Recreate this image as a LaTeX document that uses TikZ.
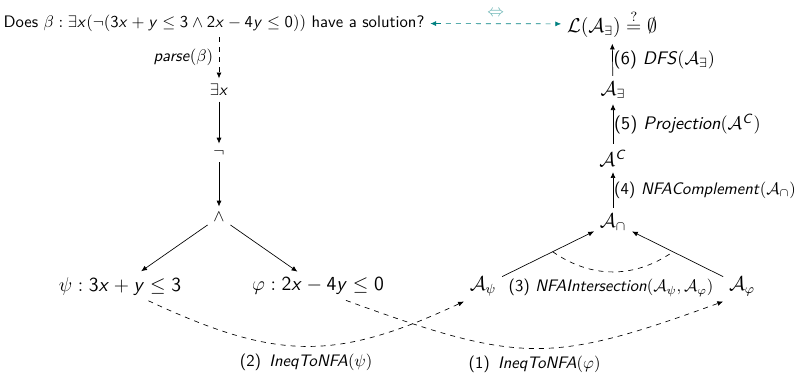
\documentclass[tikz,border=0pt]{standalone}
\usepackage{amsmath,amssymb}
\usetikzlibrary{arrows.meta}
\renewcommand{\familydefault}{\sfdefault}
\DeclareSymbolFont{sfslanted}{OT1}{cmss}{m}{sl}
\DeclareSymbolFont{sfupright}{OT1}{cmss}{m}{n}
\DeclareMathSymbol{x}{\mathalpha}{sfslanted}{`x}
\DeclareMathSymbol{y}{\mathalpha}{sfslanted}{`y}
\DeclareMathSymbol{C}{\mathalpha}{sfslanted}{`C}
\DeclareMathSymbol{0}{\mathalpha}{sfupright}{`0}
\DeclareMathSymbol{2}{\mathalpha}{sfupright}{`2}
\DeclareMathSymbol{3}{\mathalpha}{sfupright}{`3}
\DeclareMathSymbol{4}{\mathalpha}{sfupright}{`4}
\begin{document}
\begin{tikzpicture}[x=0.0211cm,y=-0.0211cm,>={Latex[length=3.5pt,width=3pt]},
    big/.style={font=\fontsize{11.5}{14}\selectfont},
    steplabel/.style={right,inner sep=0.5pt,font=\fontsize{10.9}{13}\selectfont}]
  \useasboundingbox (0,0) rectangle (804,378);
  \node (question) at (214,23) {Does $\beta:\exists x(\neg(3x+y\le 3\wedge 2x-4y\le 0))$ have a solution?};
  \node[font=\large] (goal) at (612,24) {$\mathcal{L}(\mathcal{A}_\exists)\stackrel{?}{=}\emptyset$};
  \node (exists) at (219,90) {$\exists x$};
  \node (neg) at (219,153) {$\neg$};
  \node (and) at (219,217) {$\wedge$};
  \node[big] (psi) at (120,286) {$\psi: 3x+y\le 3$};
  \node[big] (phi) at (318,286) {$\varphi: 2x-4y\le 0$};
  \node[big] (Apsi) at (483,286) {$\mathcal{A}_\psi$};
  \node[big] (Aphi) at (742,286) {$\mathcal{A}_\varphi$};
  \node[big] (Acap) at (613,222) {$\mathcal{A}_\cap$};
  \node[big] (Acomp) at (613,158) {$\mathcal{A}^C$};
  \node[big] (Aex) at (613,90) {$\mathcal{A}_\exists$};
  \node (inter) at (611,288) {(3) \textit{NFAIntersection}$(\mathcal{A}_\psi,\mathcal{A}_\varphi)$};
  \draw[<->,dashed,teal] (question) -- node[above=1pt,teal!60] {$\Leftrightarrow$} (goal);
  \draw[->,dashed] (question.south -| exists) -- node[left] {\textit{parse}$(\beta)$} (exists);
  \draw[->] (exists) -- (neg);
  \draw[->] (neg) -- (and);
  \draw[->] (and) -- (psi);
  \draw[->] (and) -- (phi);
  \draw[->] (Apsi) -- coordinate[pos=.55] (cl) (Acap);
  \draw[->] (Aphi) -- coordinate[pos=.55] (cr) (Acap);
  \draw[dashed] (cl) to[bend right=35] (cr);
  \draw[->] (Acap) -- node[steplabel,font=\fontsize{10}{12}\selectfont] {(4) \textit{NFAComplement}$(\mathcal{A}_\cap)$} (Acomp);
  \draw[->] (Acomp) -- node[steplabel] {(5) \textit{Projection}$(\mathcal{A}^C)$} (Aex);
  \draw[->] (Aex) -- node[steplabel] {(6) \textit{DFS}$(\mathcal{A}_\exists)$} (goal);
  \draw[->,dashed] ([xshift=0.6cm]psi.south) to[out=-25,in=205,looseness=1.15]
    node[below=1pt] {(2)\enspace\textit{IneqToNFA}$(\psi)$} (Apsi.south west);
  \draw[->,dashed] ([xshift=0.59cm]phi.south) to[out=-20,in=200,looseness=1.25]
    node[below=1pt] {(1)\enspace\textit{IneqToNFA}$(\varphi)$} (Aphi.south west);
\end{tikzpicture}
\end{document}
